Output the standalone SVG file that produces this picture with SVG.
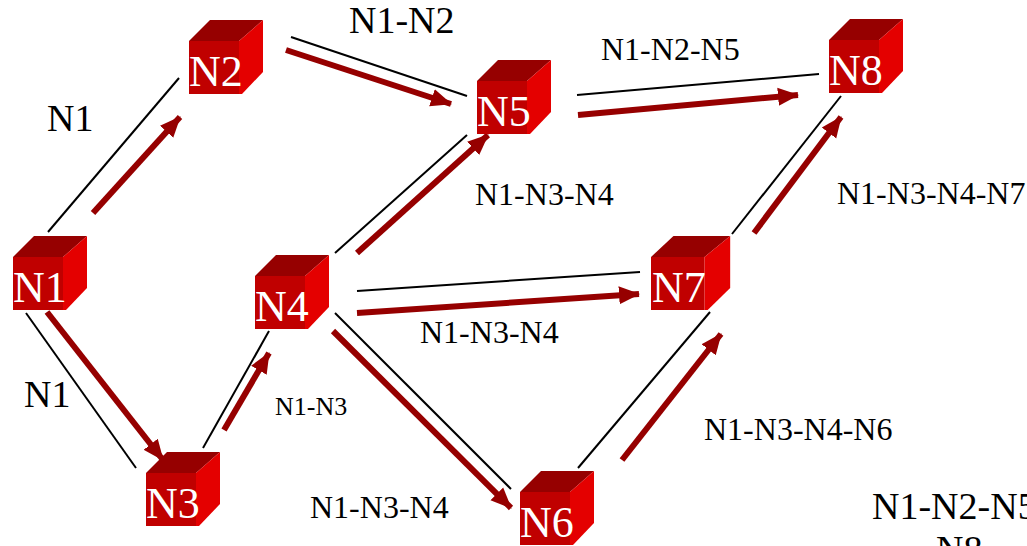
<svg xmlns="http://www.w3.org/2000/svg" width="1027" height="546" viewBox="0 0 1027 546">
<style>
.t{font-family:"Liberation Serif","Times New Roman",serif;fill:#000}
.s38{font-size:38px}.s32{font-size:32px}.s26{font-size:26px}
.n{font-family:"Liberation Serif","Times New Roman",serif;font-size:44px;fill:#fff}
.top{fill:#960000}.front{fill:#c00000}.side{fill:#e40000}
.w{stroke:#000;stroke-width:2;fill:none}
.r{stroke:#960000;stroke-width:6;fill:none;marker-end:url(#a)}
</style>
<defs>
<marker id="a" markerUnits="userSpaceOnUse" markerWidth="22" markerHeight="20" refX="20" refY="10" orient="auto"><path d="M0 1L21 10L0 19Z" fill="#960000"/></marker>
<g id="cube"><path class="top" d="M0 21L21 0H74L50 21Z"/><path class="front" d="M0 21H50V74H0Z"/><path class="side" d="M50 21L74 0V52L53 74H50Z"/></g>
</defs>
<g id="connectors">
<path class="w" d="M48 232L179 78"/><path class="r" d="M93 213L180 117"/>
<path class="w" d="M26 313L136 468"/><path class="r" d="M47 312L163 460"/>
<path class="w" d="M203 448L269 331"/><path class="r" d="M224 430L269 353"/>
<path class="w" d="M291 37L467 96"/><path class="r" d="M286 50L451 104"/>
<path class="w" d="M335 253L467 135"/><path class="r" d="M357 253L488 135"/>
<path class="w" d="M577 95L819 74"/><path class="r" d="M578 115L798 95"/>
<path class="w" d="M357 291L640 272"/><path class="r" d="M357 313L639 294"/>
<path class="w" d="M335 313L511 489"/><path class="r" d="M333 331L511 508"/>
<path class="w" d="M578 468L710 312"/><path class="r" d="M622 460L721 334"/>
<path class="w" d="M732 234L841 96"/><path class="r" d="M754 233L841 117"/>
</g>
<g id="N1"><use href="#cube" x="13" y="236"/><text class="n" x="13" y="302">N1</text></g>
<g id="N2"><use href="#cube" x="189" y="20"/><text class="n" x="189" y="86">N2</text></g>
<g id="N3"><use href="#cube" x="146" y="452"/><text class="n" x="146" y="518">N3</text></g>
<g id="N4"><use href="#cube" x="255" y="255"/><text class="n" x="255" y="321">N4</text></g>
<g id="N5"><use href="#cube" x="477" y="60"/><text class="n" x="477" y="126">N5</text></g>
<g id="N6"><use href="#cube" x="520" y="471"/><text class="n" x="520" y="537">N6</text></g>
<g id="N7"><use href="#cube" transform="translate(651 236) scale(1.07 1)"/><text class="n" x="652" y="302">N7</text></g>
<g id="N8"><use href="#cube" x="829" y="19"/><text class="n" x="829" y="85">N8</text></g>
<g id="labels">
<text class="t s38" x="47" y="131">N1</text>
<text class="t s38" x="24" y="407">N1</text>
<text class="t s38" x="349" y="33">N1-N2</text>
<text class="t s32" x="601" y="60">N1-N2-N5</text>
<text class="t s32" x="475" y="205">N1-N3-N4</text>
<text class="t s32" x="837" y="204">N1-N3-N4-N7</text>
<text class="t s32" x="420" y="343">N1-N3-N4</text>
<text class="t s26" x="275" y="415">N1-N3</text>
<text class="t s32" x="704" y="440">N1-N3-N4-N6</text>
<text class="t s32" x="310" y="518">N1-N3-N4</text>
<text class="t s38" x="872" y="519">N1-N2-N5</text>
<text class="t s38" x="936" y="562">N8</text>
</g>
</svg>
